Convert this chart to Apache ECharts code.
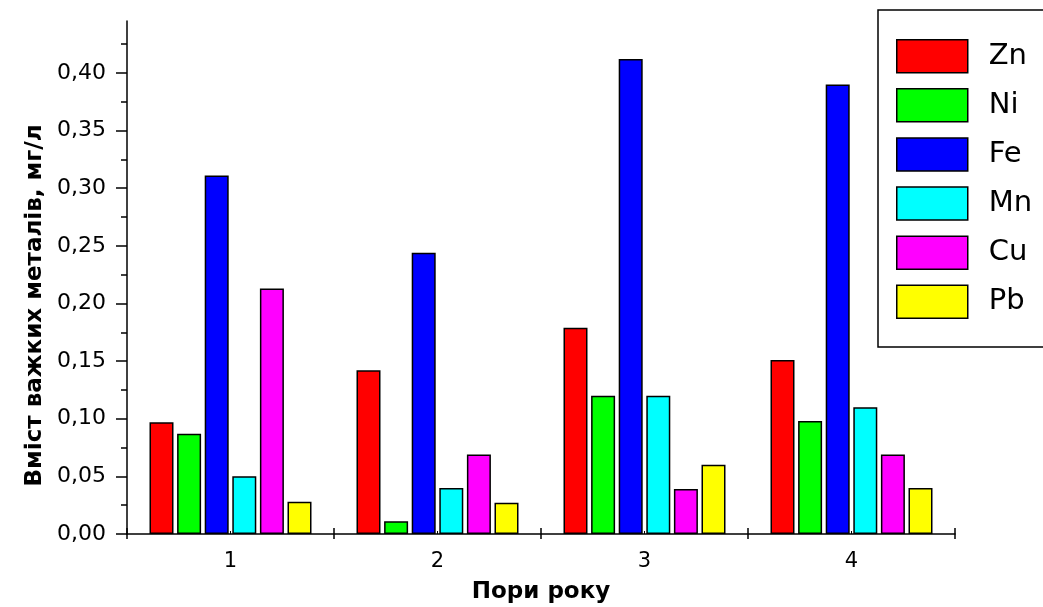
<!DOCTYPE html>
<html>
<head>
<meta charset="utf-8">
<script src="https://cdn.jsdelivr.net/npm/echarts@6/dist/echarts.min.js"></script>
<style>
html,body{margin:0;padding:0;background:#fff;}
#chart{width:1043px;height:607px;}
</style>
</head>
<body>
<div id="chart"></div>
<script>
const categories = ['1', '2', '3', '4'];
const seriesNames = ['Zn', 'Ni', 'Fe', 'Mn', 'Cu', 'Pb'];
const Zn = [0.097, 0.142, 0.179, 0.151];
const Ni = [0.087, 0.011, 0.120, 0.098];
const Fe = [0.311, 0.244, 0.412, 0.390];
const Mn = [0.050, 0.040, 0.120, 0.110];
const Cu = [0.213, 0.069, 0.039, 0.069];
const Pb = [0.028, 0.027, 0.060, 0.040];
const majorTicks = [0, 0.05, 0.10, 0.15, 0.20, 0.25, 0.30, 0.35, 0.40];
const minorTicks = [0.025, 0.075, 0.125, 0.175, 0.225, 0.275, 0.325, 0.375, 0.425];
const colors = ['#ff0000', '#00ff00', '#0000ff', '#00ffff', '#ff00ff', '#ffff00'];
const values = [Zn, Ni, Fe, Mn, Cu, Pb];

const font = 'DejaVu Sans, Liberation Sans, sans-serif';
const chart = echarts.init(document.getElementById('chart'), null, {renderer: 'canvas'});

const lineStyle = {color: '#000', width: 1.5};

const option = {
  animation: false,
  backgroundColor: '#fff',
  grid: {left: 127, right: 88, top: 21, bottom: 73, containLabel: false, outerBoundsMode: 'none'},
  legend: {
    orient: 'vertical',
    left: 878,
    top: 10,
    padding: [29, 120, 28, 18],
    borderColor: '#000',
    borderWidth: 1.5,
    itemWidth: 71,
    itemHeight: 33,
    itemGap: 14.6,
    icon: 'rect',
    itemStyle: {borderColor: '#000', borderWidth: 1.5},
    textStyle: {fontFamily: font, fontSize: 29, lineHeight: 30, color: '#000', padding: [0, 0, 0, 16]},
    data: seriesNames
  },
  xAxis: [
    {
      type: 'category',
      data: categories,
      position: 'bottom',
      axisLine: {show: true, onZero: false, lineStyle: lineStyle},
      axisTick: {show: true, inside: true, length: 6, lineStyle: lineStyle},
      axisLabel: {fontFamily: font, fontSize: 21, color: '#000', margin: 17},
      name: 'Пори року',
      nameLocation: 'middle',
      nameGap: 47,
      nameTextStyle: {fontFamily: font, fontSize: 23, fontWeight: 'bold', color: '#000'},
      splitLine: {show: false}
    },
    {
      type: 'category',
      data: categories,
      position: 'bottom',
      axisLine: {show: false, onZero: false},
      axisTick: {show: true, inside: false, length: 5, lineStyle: lineStyle},
      axisLabel: {show: false},
      splitLine: {show: false}
    },
    {
      type: 'category',
      data: categories,
      position: 'bottom',
      axisLine: {show: false, onZero: false},
      axisTick: {show: true, alignWithLabel: true, inside: true, length: 3, lineStyle: {color: '#000', width: 1}},
      axisLabel: {show: false},
      splitLine: {show: false}
    }
  ],
  yAxis: [
    {
      type: 'value',
      min: 0,
      max: 0.445,
      axisLine: {show: true, lineStyle: lineStyle},
      axisTick: {show: true, length: 11, lineStyle: lineStyle, customValues: majorTicks},
      axisLabel: {
        fontFamily: font, fontSize: 22, color: '#000', margin: 21,
        customValues: majorTicks,
        formatter: v => v.toFixed(2).replace('.', ',')
      },
      splitLine: {show: false},
      name: 'Вміст важких металів, мг/л',
      nameLocation: 'middle',
      nameGap: 78,
      nameTextStyle: {fontFamily: font, fontSize: 23, fontWeight: 'bold', color: '#000', padding: [0, 56, 0, 0]}
    },
    {
      type: 'value',
      min: 0,
      max: 0.445,
      position: 'left',
      axisLine: {show: false},
      axisTick: {show: true, length: 6, lineStyle: lineStyle, customValues: minorTicks},
      axisLabel: {show: false, customValues: minorTicks},
      splitLine: {show: false}
    }
  ],
  series: seriesNames.map((name, i) => ({
    name: name,
    type: 'bar',
    xAxisIndex: 0,
    yAxisIndex: 0,
    data: values[i],
    barWidth: 24,
    barGap: '15%',
    itemStyle: {color: colors[i], borderColor: '#000', borderWidth: 1.5}
  }))
};
chart.setOption(option);
</script>
</body>
</html>
